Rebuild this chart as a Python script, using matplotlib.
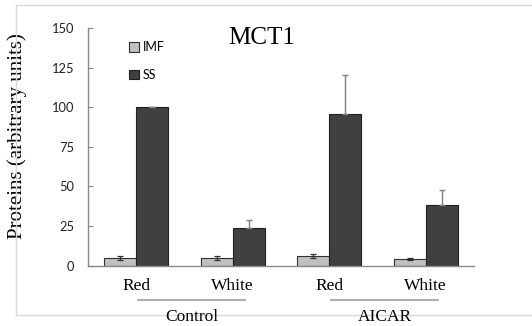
import matplotlib
matplotlib.use("Agg")
import matplotlib.pyplot as plt
import matplotlib.transforms as mtransforms
from matplotlib.lines import Line2D
import numpy as np

categories = ["Red", "White", "Red", "White"]
groups = ["Control", "AICAR"]
imf_values = [5, 5, 6, 4]
imf_err = [1.2, 1.2, 1.3, 0.7]
ss_values = [100, 24, 96, 38]
ss_err = [0.4, 5, 24.5, 9.5]
yticks = [0, 25, 50, 75, 100, 125, 150]

fig = plt.figure(figsize=(5.32, 3.26), dpi=100)
ax = fig.add_axes([88/532, 1-265.6/326, (474-88)/532, (265.6-28)/326])

x = np.arange(len(categories))
w = 1/3
imf_col = "#c0c0c0"
ss_col = "#404040"
err_col = "#7f7f7f"

ax.bar(x - w/2, imf_values, w, color=imf_col, edgecolor="#303030", linewidth=0.8, label="IMF", zorder=2)
ax.bar(x + w/2, ss_values, w, color=ss_col, edgecolor="#202020", linewidth=0.8, label="SS", zorder=2)
ax.errorbar(x - w/2, imf_values, yerr=imf_err, fmt="none", ecolor="#303030", capsize=2.5, elinewidth=0.9, capthick=0.9, zorder=3)
ax.errorbar(x + w/2, ss_values, yerr=[np.zeros(len(ss_err)), ss_err], fmt="none", ecolor=err_col, capsize=2.5, elinewidth=1.0, capthick=1.0, zorder=3)

ax.set_xlim(-0.5, 3.5)
ax.set_ylim(0, 150)
ax.set_yticks(yticks)
ax.set_yticklabels([str(t) for t in yticks], fontfamily="Lato", fontsize=9.3, color="#222222")
ax.set_xticks(x)
ax.set_xticklabels(categories, fontfamily="Liberation Serif", fontsize=12.5)
ax.tick_params(axis="x", length=0, pad=9)
ax.tick_params(axis="y", direction="in", length=3.5, pad=10, color="#898989")
for s in ["top", "right"]:
    ax.spines[s].set_visible(False)
for s in ["left", "bottom"]:
    ax.spines[s].set_color("#898989")
    ax.spines[s].set_linewidth(1)

ax.set_ylabel("Proteins (arbitrary units)", fontfamily="Liberation Serif", fontsize=15)
ax.yaxis.set_label_coords(-(88-27)/386, 0.545)

fig.text(262/532, 1-38/326, "MCT1", fontfamily="Liberation Serif", fontsize=18, ha="center", va="center")

leg = ax.legend(loc="upper left", bbox_to_anchor=(0.089, 0.97), frameon=False,
                prop={"family": "Lato", "size": 9}, handlelength=0.85, handleheight=0.75,
                handletextpad=0.3, labelspacing=1.25, borderpad=0)

trans = mtransforms.blended_transform_factory(ax.transData, ax.transAxes)
for gi, g in enumerate(groups):
    c = gi * 2 + 0.575
    ax.add_line(Line2D([c - 0.555, c + 0.555], [-0.145, -0.145], transform=trans, color="#a0a0a0", linewidth=1.2, clip_on=False))
    ax.text(c, -0.218, g, transform=trans, ha="center", va="center", fontfamily="Liberation Serif", fontsize=12.5, clip_on=False, zorder=5)

# outer frame
fc = "#d9d9d9"
fig.add_artist(Line2D([16/532, 1.0], [1-5/326, 1-5/326], transform=fig.transFigure, color=fc, linewidth=1))
fig.add_artist(Line2D([16/532, 16/532], [1-5/326, 1-315/326], transform=fig.transFigure, color=fc, linewidth=1))
fig.add_artist(Line2D([16/532, 1.0], [1-315/326, 1-315/326], transform=fig.transFigure, color=fc, linewidth=1, zorder=0))

fig.savefig("out.png", dpi=100)
